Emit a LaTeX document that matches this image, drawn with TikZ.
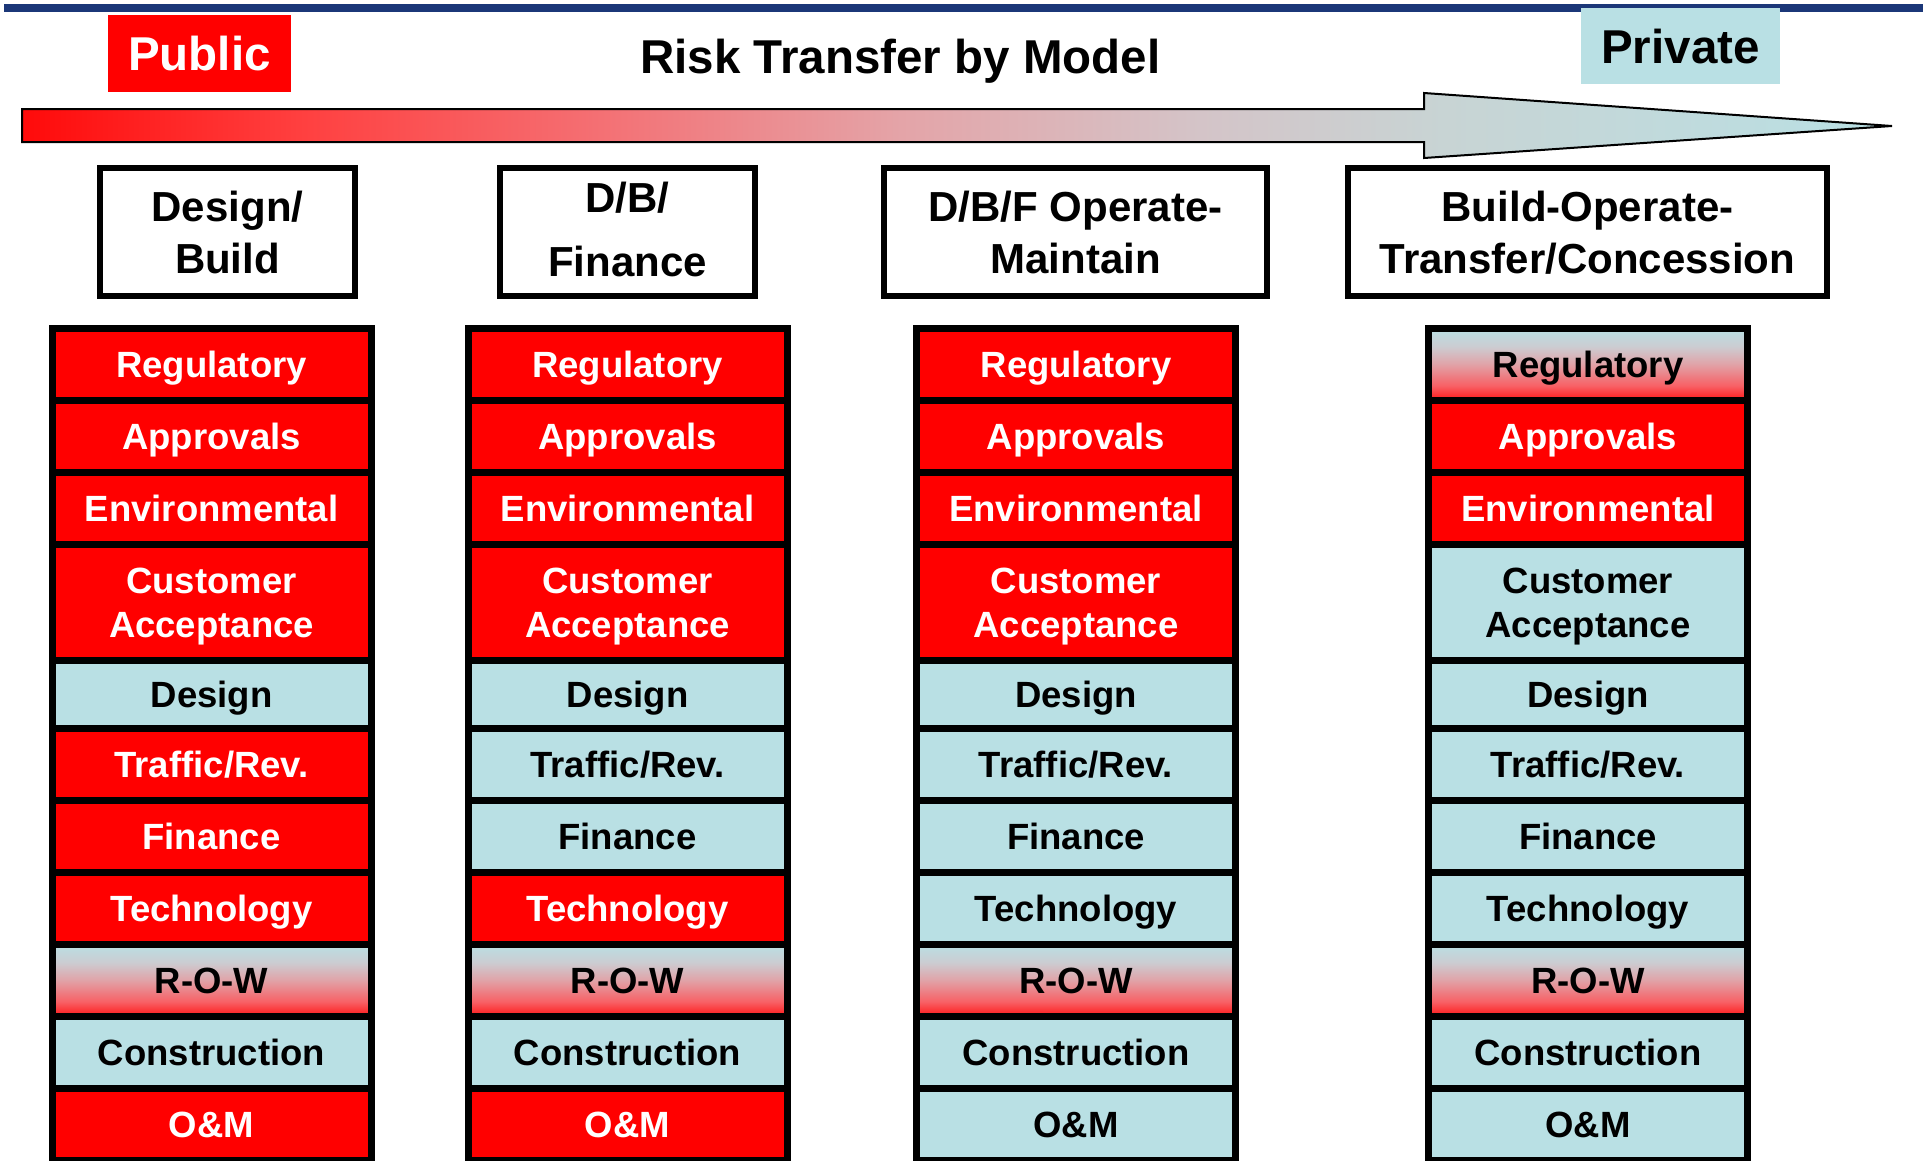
\documentclass[tikz,border=0pt]{standalone}
\usepackage{fontspec}
\setmainfont{Liberation Sans}

\definecolor{riskred}{RGB}{255,0,0}
\definecolor{risklight}{RGB}{185,224,228}
\definecolor{risknavy}{RGB}{27,55,120}

\pgfdeclarehorizontalshading{transfershade}{100bp}{rgb(0bp)=(1,0.04,0.04); rgb(25bp)=(1,0.04,0.04); rgb(32.5bp)=(1,0.25,0.25); rgb(40.5bp)=(0.957,0.44,0.455); rgb(48.5bp)=(0.894,0.643,0.659); rgb(56.5bp)=(0.831,0.769,0.784); rgb(63bp)=(0.784,0.831,0.831); rgb(75bp)=(0.725,0.878,0.894); rgb(100bp)=(0.725,0.878,0.894)}
\pgfdeclareverticalshading{rowshade}{100bp}{rgb(0bp)=(1,0.1,0.1); rgb(25bp)=(1,0.1,0.1); rgb(35bp)=(0.97,0.38,0.4); rgb(50bp)=(0.88,0.64,0.66); rgb(62bp)=(0.8,0.8,0.82); rgb(75bp)=(0.725,0.878,0.894); rgb(100bp)=(0.725,0.878,0.894)}

\begin{document}
\begin{tikzpicture}[x=1pt,y=-1pt,every text node part/.style={align=center},
	cell/.style={draw=black,line width=7pt,minimum width=319pt,inner sep=0pt,text height=26pt,text depth=0pt,font=\fontsize{36.5}{44}\selectfont\bfseries},
	pub/.style={fill=riskred,text=white},
	priv/.style={fill=risklight,text=black},
	mix/.style={shading=rowshade,text=black},
	oneline/.style={},
	twoline/.style={text height=70pt},
	model/.style={draw=black,line width=6pt,minimum height=128pt,inner sep=0pt,text height=82pt,text depth=0pt,font=\fontsize{42}{52}\selectfont\bfseries},
	side/.style={inner sep=0pt,text height=34pt,text depth=0pt,font=\fontsize{47.5}{52}\selectfont\bfseries}]
		\useasboundingbox (0,0) rectangle (1923,1160);
		\draw[risknavy,line width=8pt] (4,8) -- (1923,8);
		
		\node[side,fill=riskred,text=white,minimum width=183pt,minimum height=77pt] (public) at (199.5,53.5) {Public};
		\node[side] (title) at (900.5,56) {Risk Transfer by Model};
		\node[side,fill=risklight,minimum width=199pt,minimum height=76pt] (private) at (1680.5,46) {Private};
		
		\draw[line width=2pt,shading=transfershade] (22,109) -- (1424,109) -- (1424,93) -- (1892,126) -- (1424,158) -- (1424,142) -- (22,142) -- cycle;
		
		\node[model,minimum width=255pt] (db) at (227.5,232) {Design/\\Build};
		\node[model,minimum width=255pt,text height=94pt,text depth=6pt] (dbf) at (627.5,232) {D/B/\\[12pt]Finance};
		\node[model,minimum width=383pt] (dbfom) at (1075.5,232) {D/B/F Operate-\\Maintain};
		\node[model,minimum width=479pt] (bot) at (1587.5,232) {Build-Operate-\\Transfer/Concession};
		
		\foreach \id/\yc/\hh/\lines/\lbl/\ca/\cb/\cc/\cd in {
			reg/364/72/oneline/Regulatory/pub/pub/pub/mix,
			app/436/72/oneline/Approvals/pub/pub/pub/pub,
			env/508/72/oneline/Environmental/pub/pub/pub/pub,
			cust/602/116/twoline/{Customer\\Acceptance}/pub/pub/pub/priv,
			des/694/68/oneline/Design/priv/priv/priv/priv,
			traf/764/72/oneline/{Traffic/Rev.}/pub/priv/priv/priv,
			fin/836/72/oneline/Finance/pub/priv/priv/priv,
			tech/908/72/oneline/Technology/pub/pub/priv/priv,
			row/980/72/oneline/R-O-W/mix/mix/mix/mix,
			con/1052/72/oneline/Construction/priv/priv/priv/priv,
			om/1124/72/oneline/O\&M/pub/pub/priv/priv}{
			\node[cell,\lines,\ca,minimum height=\hh pt] (\id-1) at (211.5,\yc) {\lbl};
			\node[cell,\lines,\cb,minimum height=\hh pt] (\id-2) at (627.5,\yc) {\lbl};
			\node[cell,\lines,\cc,minimum height=\hh pt] (\id-3) at (1076,\yc) {\lbl};
			\node[cell,\lines,\cd,minimum height=\hh pt] (\id-4) at (1588,\yc) {\lbl};
		}
	\end{tikzpicture}
\end{document}
